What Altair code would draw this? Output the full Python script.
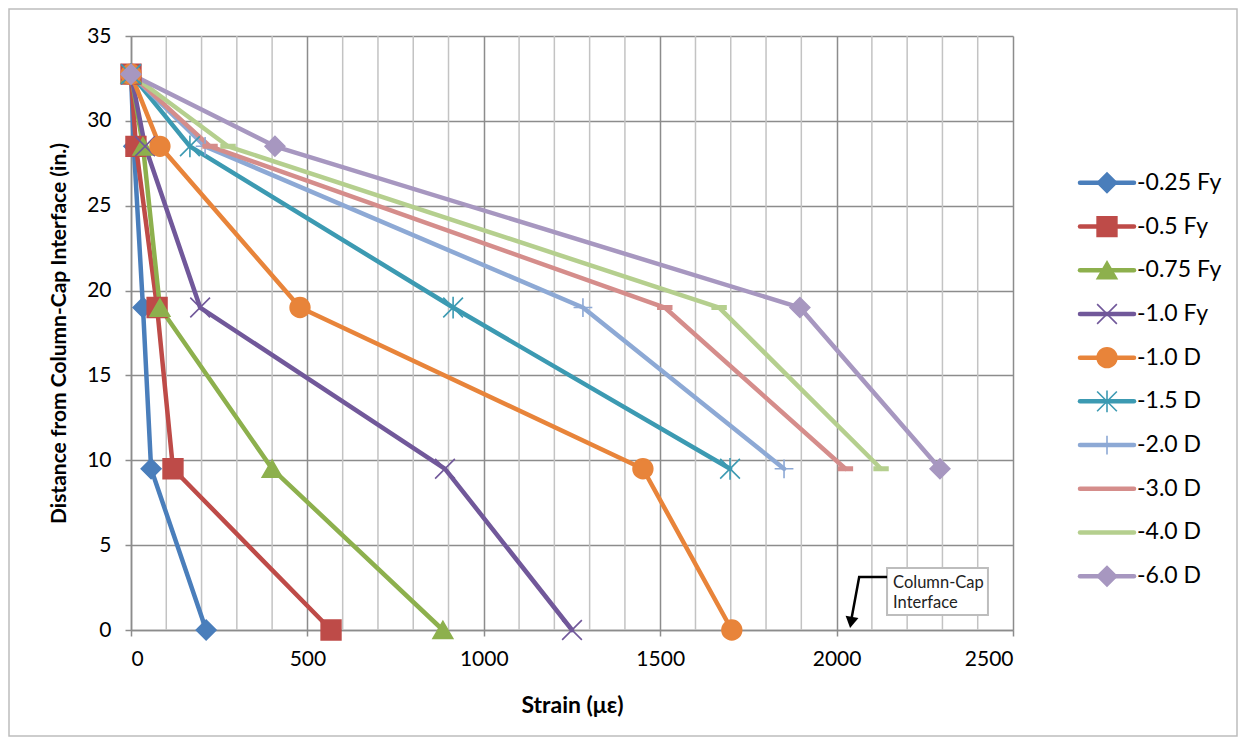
import altair as alt
import pandas as pd

# ---------------- data ----------------
series = ["-0.25 Fy", "-0.5 Fy", "-0.75 Fy", "-1.0 Fy", "-1.0 D",
          "-1.5 D", "-2.0 D", "-3.0 D", "-4.0 D", "-6.0 D"]
colors = ["#4A7EBB", "#BE4B48", "#8DB04D", "#71589A", "#E8843A",
          "#3C9AB2", "#8DA9D5", "#D58D8B", "#B5CF8E", "#A797C0"]

heights = [32.75, 28.5, 19, 9.5, 0]

strain_025fy = [0, 8, 34, 57, 213]
strain_05fy = [0, 14, 74, 119, 567]
strain_075fy = [0, 34, 82, 400, 884]
strain_10fy = [0, 40, 196, 890, 1250]
strain_10d = [0, 82, 479, 1451, 1703]
strain_15d = [0, 167, 913, 1698]
strain_20d = [0, 210, 1281, 1851]
strain_30d = [0, 224, 1513, 2025]
strain_40d = [0, 275, 1667, 2126]
strain_60d = [0, 408, 1896, 2293]

all_strains = [strain_025fy, strain_05fy, strain_075fy, strain_10fy, strain_10d,
               strain_15d, strain_20d, strain_30d, strain_40d, strain_60d]

x_ticks = [0, 500, 1000, 1500, 2000, 2500]
y_ticks = [0, 5, 10, 15, 20, 25, 30, 35]
minor_grid = [v for v in range(100, 2500, 100) if v % 500 != 0]

# annotation (data coordinates)
ann_lines = ["Column-Cap", "Interface"]
ann_text_x = [2160, 2160]
ann_text_y = [2.77, 1.59]
ann_box = {"x": [2143], "x2": [2429], "y": [0.88], "y2": [3.65]}
ann_arrow_x = [2143, 2064, 2043]
ann_arrow_y = [3.12, 3.12, 0.75]
ann_head_x = [2041]
ann_head_y = [0.45]

# marker shapes (Excel-like)
CROSS = "M-1,-1L1,1M-1,1L1,-1"
ASTER = "M-1,-1L1,1M-1,1L1,-1M0,-1.1L0,1.1"
PLUS = "M0,-0.95L0,0.95M-0.95,0L0.95,0"
DASH = "M-0.7,-0.17L0.7,-0.17L0.7,0.17L-0.7,0.17Z"
shapes = ["diamond", "square", "triangle-up", CROSS, "circle",
          ASTER, PLUS, DASH, DASH, "diamond"]

rows = []
for s, xs_ in zip(series, all_strains):
    for i, x in enumerate(xs_):
        rows.append({"series": s, "strain": x, "dist": heights[i], "idx": i})
df = pd.DataFrame(rows)

FONT = "Lato"
W, H = 882, 594
MSIZE = 390

color_scale = alt.Scale(domain=series, range=colors)
shape_scale = alt.Scale(domain=series, range=shapes)
xs = alt.Scale(domain=[0, 2500], nice=False)
ys = alt.Scale(domain=[0, 35], nice=False)

base = alt.Chart(df)

minor = alt.Chart(pd.DataFrame({"g": minor_grid})).mark_rule(
    color="#C3C3C3", strokeWidth=1.5
).encode(x=alt.X("g:Q", scale=xs, title="Strain (\u03bc\u03b5)"))

lines = base.mark_line(strokeWidth=4.5, strokeCap="round", strokeJoin="round").encode(
    x=alt.X("strain:Q", scale=xs,
            axis=alt.Axis(values=x_ticks, title="Strain (\u03bc\u03b5)", grid=True,
                          tickSize=6, labelPadding=12, titlePadding=25,
                          titleFontSize=23, format="d")),
    y=alt.Y("dist:Q", scale=ys,
            axis=alt.Axis(values=y_ticks, title="Distance from Column-Cap Interface (in.)",
                          grid=True, tickSize=6, labelPadding=14, titlePadding=17,
                          titleFontSize=21)),
    color=alt.Color("series:N", scale=color_scale, legend=None),
    order="idx:Q",
)

points = base.mark_point(filled=True, opacity=1, strokeWidth=1.6, size=MSIZE).encode(
    x=alt.X("strain:Q", scale=xs),
    y=alt.Y("dist:Q", scale=ys),
    color=alt.Color("series:N", scale=color_scale, legend=None),
    stroke=alt.Stroke("series:N", scale=color_scale, legend=None),
    shape=alt.Shape("series:N", scale=shape_scale, legend=None),
)

box = alt.Chart(pd.DataFrame(ann_box)).mark_rect(
    fill="white", stroke="#BDBDBD", strokeWidth=2
).encode(x=alt.X("x:Q", scale=xs), x2="x2:Q", y=alt.Y("y:Q", scale=ys), y2="y2:Q")

arrow = alt.Chart(pd.DataFrame({"x": ann_arrow_x, "y": ann_arrow_y,
                                "o": list(range(len(ann_arrow_x)))})).mark_line(
    color="black", strokeWidth=2.5
).encode(x=alt.X("x:Q", scale=xs), y=alt.Y("y:Q", scale=ys), order="o:Q")

head = alt.Chart(pd.DataFrame({"x": ann_head_x, "y": ann_head_y})).mark_point(
    shape="triangle-down", filled=True, color="black", opacity=1, size=170, angle=10
).encode(x=alt.X("x:Q", scale=xs), y=alt.Y("y:Q", scale=ys))

ann_text = alt.Chart(pd.DataFrame({"t": ann_lines, "x": ann_text_x, "y": ann_text_y})).mark_text(
    align="left", baseline="middle", font=FONT, fontSize=16.5, color="#222222"
).encode(x=alt.X("x:Q", scale=xs), y=alt.Y("y:Q", scale=ys), text="t:N")

main = alt.layer(minor, lines, points, box, arrow, head, ann_text)

# ---------------- legend (drawn from the series list) ----------------
leg_df = pd.DataFrame({"series": series})
leg_y = alt.Y("series:N", scale=alt.Scale(domain=series, range=[125, 562]), axis=None)

leg_line = alt.Chart(leg_df).mark_rule(strokeWidth=4.5, strokeCap="round").encode(
    x=alt.value(949), x2=alt.value(1003), y=leg_y,
    color=alt.Color("series:N", scale=color_scale, legend=None),
)
leg_pts = alt.Chart(leg_df).transform_filter(
    alt.FieldOneOfPredicate(field="series", oneOf=[s for s, sh in zip(series, shapes) if sh != DASH])
).mark_point(filled=True, opacity=1, strokeWidth=1.6, size=MSIZE).encode(
    x=alt.value(976), y=leg_y,
    color=alt.Color("series:N", scale=color_scale, legend=None),
    stroke=alt.Stroke("series:N", scale=color_scale, legend=None),
    shape=alt.Shape("series:N", scale=shape_scale, legend=None),
)
leg_txt = alt.Chart(leg_df).mark_text(
    align="left", baseline="middle", font=FONT, fontSize=23, color="black"
).encode(x=alt.value(1006), y=leg_y, text="series:N")

border = alt.Chart(pd.DataFrame({"a": [0]})).mark_rect(
    fillOpacity=0, stroke="#BDBDBD", strokeWidth=1.5
).encode(x=alt.value(-122), x2=alt.value(1106), y=alt.value(-27), y2=alt.value(700))

legend = alt.layer(leg_line, leg_pts, leg_txt, border)

chart = alt.layer(main, legend).resolve_scale(
    y="independent"
).properties(
    width=W, height=H,
    padding={"left": 123, "top": 28, "right": 225, "bottom": 107},
    autosize="none",
).configure_view(stroke=None).configure_axis(
    labelFont=FONT, labelFontSize=21, labelColor="black",
    titleFont=FONT, titleFontSize=21, titleFontWeight="bold", titleColor="black",
    domainColor="#8C8C8C", domainWidth=1.5, tickColor="#8C8C8C", tickWidth=1.5,
    gridColor="#8C8C8C", gridWidth=1.5,
)

chart.save("out.html", embed_options={"renderer": "svg", "actions": False})
